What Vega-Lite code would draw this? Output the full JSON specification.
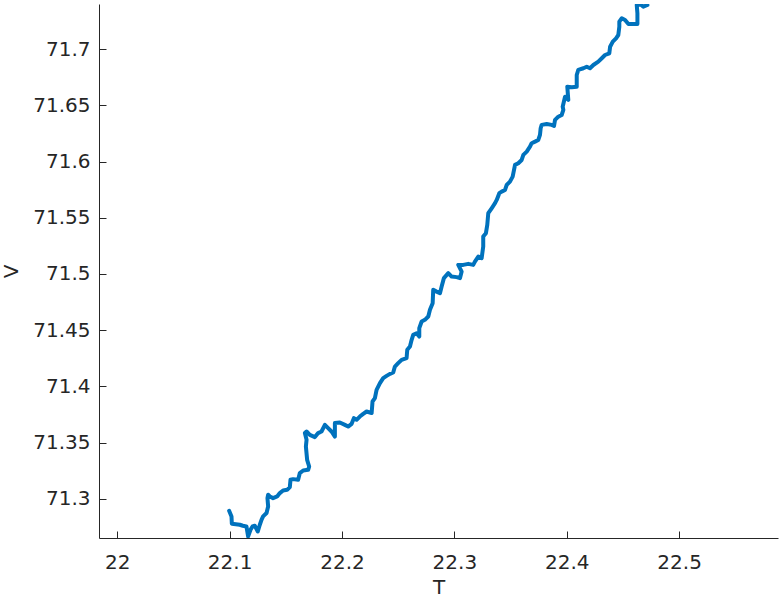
{
  "$schema": "https://vega.github.io/schema/vega-lite/v6.json",
  "autosize": "none",
  "padding": {"left": 99, "top": 4, "right": 2, "bottom": 60},
  "width": 679,
  "height": 534,
  "config": {
    "view": {"stroke": null},
    "axis": {
      "domainColor": "#262626", "tickColor": "#262626", "labelColor": "#262626", "titleColor": "#262626",
      "labelFont": "DejaVu Sans", "titleFont": "DejaVu Sans", "labelFontSize": 20, "titleFontSize": 20,
      "titleFontWeight": "normal", "grid": false, "tickSize": -7, "domainWidth": 1, "tickWidth": 1
    }
  },
  "data": {"values": [
    {"i":1,"T":22.0996,"V":71.2892},{"i":2,"T":22.1017,"V":71.2842},{"i":3,"T":22.1020,"V":71.2777},{"i":4,"T":22.1091,"V":71.2768},
    {"i":5,"T":22.1118,"V":71.2759},{"i":6,"T":22.1150,"V":71.2753},{"i":7,"T":22.1165,"V":71.2664},{"i":8,"T":22.1186,"V":71.2723},
    {"i":9,"T":22.1204,"V":71.2753},{"i":10,"T":22.1224,"V":71.2759},{"i":11,"T":22.1251,"V":71.2708},{"i":12,"T":22.1269,"V":71.2768},
    {"i":13,"T":22.1284,"V":71.2812},{"i":14,"T":22.1298,"V":71.2842},{"i":15,"T":22.1329,"V":71.2872},{"i":16,"T":22.1343,"V":71.2931},
    {"i":17,"T":22.1337,"V":71.3005},{"i":18,"T":22.1343,"V":71.3035},{"i":19,"T":22.1358,"V":71.3020},{"i":20,"T":22.1387,"V":71.3005},
    {"i":21,"T":22.1423,"V":71.3020},{"i":22,"T":22.1447,"V":71.3050},{"i":23,"T":22.1476,"V":71.3073},{"i":24,"T":22.1512,"V":71.3079},
    {"i":25,"T":22.1536,"V":71.3103},{"i":26,"T":22.1542,"V":71.3168},{"i":27,"T":22.1565,"V":71.3174},{"i":28,"T":22.1610,"V":71.3168},
    {"i":29,"T":22.1625,"V":71.3228},{"i":30,"T":22.1655,"V":71.3251},{"i":31,"T":22.1699,"V":71.3257},{"i":32,"T":22.1708,"V":71.3286},
    {"i":33,"T":22.1690,"V":71.3346},{"i":34,"T":22.1679,"V":71.3464},{"i":35,"T":22.1685,"V":71.3524},{"i":36,"T":22.1670,"V":71.3584},
    {"i":37,"T":22.1685,"V":71.3598},{"i":38,"T":22.1714,"V":71.3568},{"i":39,"T":22.1759,"V":71.3548},{"i":40,"T":22.1788,"V":71.3584},
    {"i":41,"T":22.1818,"V":71.3598},{"i":42,"T":22.1848,"V":71.3657},{"i":43,"T":22.1877,"V":71.3628},{"i":44,"T":22.1907,"V":71.3598},
    {"i":45,"T":22.1937,"V":71.3553},{"i":46,"T":22.1937,"V":71.3673},{"i":47,"T":22.1981,"V":71.3678},{"i":48,"T":22.2026,"V":71.3657},
    {"i":49,"T":22.2055,"V":71.3642},{"i":50,"T":22.2086,"V":71.3666},{"i":51,"T":22.2106,"V":71.3717},{"i":52,"T":22.2130,"V":71.3702},
    {"i":53,"T":22.2159,"V":71.3731},{"i":54,"T":22.2189,"V":71.3755},{"i":55,"T":22.2219,"V":71.3776},{"i":56,"T":22.2264,"V":71.3762},
    {"i":57,"T":22.2272,"V":71.3865},{"i":58,"T":22.2293,"V":71.3895},{"i":59,"T":22.2308,"V":71.3969},{"i":60,"T":22.2338,"V":71.4028},
    {"i":61,"T":22.2367,"V":71.4073},{"i":62,"T":22.2397,"V":71.4093},{"i":63,"T":22.2427,"V":71.4111},{"i":64,"T":22.2456,"V":71.4123},
    {"i":65,"T":22.2471,"V":71.4176},{"i":66,"T":22.2500,"V":71.4206},{"i":67,"T":22.2531,"V":71.4236},{"i":68,"T":22.2575,"V":71.4251},
    {"i":69,"T":22.2581,"V":71.4325},{"i":70,"T":22.2605,"V":71.4354},{"i":71,"T":22.2620,"V":71.4414},{"i":72,"T":22.2634,"V":71.4458},
    {"i":73,"T":22.2664,"V":71.4473},{"i":74,"T":22.2688,"V":71.4443},{"i":75,"T":22.2688,"V":71.4518},{"i":76,"T":22.2709,"V":71.4577},
    {"i":77,"T":22.2738,"V":71.4592},{"i":78,"T":22.2768,"V":71.4621},{"i":79,"T":22.2783,"V":71.4681},{"i":80,"T":22.2807,"V":71.4740},
    {"i":81,"T":22.2812,"V":71.4859},{"i":82,"T":22.2842,"V":71.4843},{"i":83,"T":22.2872,"V":71.4829},{"i":84,"T":22.2887,"V":71.4888},
    {"i":85,"T":22.2907,"V":71.4963},{"i":86,"T":22.2946,"V":71.5007},{"i":87,"T":22.2976,"V":71.4977},{"i":88,"T":22.3020,"V":71.4972},
    {"i":89,"T":22.3050,"V":71.4963},{"i":90,"T":22.3065,"V":71.5021},{"i":91,"T":22.3035,"V":71.5081},{"i":92,"T":22.3079,"V":71.5081},
    {"i":93,"T":22.3124,"V":71.5090},{"i":94,"T":22.3168,"V":71.5081},{"i":95,"T":22.3183,"V":71.5110},{"i":96,"T":22.3213,"V":71.5155},
    {"i":97,"T":22.3243,"V":71.5141},{"i":98,"T":22.3257,"V":71.5244},{"i":99,"T":22.3257,"V":71.5333},{"i":100,"T":22.3281,"V":71.5363},
    {"i":101,"T":22.3293,"V":71.5437},{"i":102,"T":22.3302,"V":71.5541},{"i":103,"T":22.3332,"V":71.5585},{"i":104,"T":22.3362,"V":71.5630},
    {"i":105,"T":22.3377,"V":71.5659},{"i":106,"T":22.3400,"V":71.5719},{"i":107,"T":22.3421,"V":71.5733},{"i":108,"T":22.3451,"V":71.5748},
    {"i":109,"T":22.3466,"V":71.5793},{"i":110,"T":22.3495,"V":71.5822},{"i":111,"T":22.3519,"V":71.5867},{"i":112,"T":22.3531,"V":71.5926},
    {"i":113,"T":22.3540,"V":71.5971},{"i":114,"T":22.3569,"V":71.5986},{"i":115,"T":22.3599,"V":71.6015},{"i":116,"T":22.3614,"V":71.6060},
    {"i":117,"T":22.3644,"V":71.6089},{"i":118,"T":22.3673,"V":71.6133},{"i":119,"T":22.3688,"V":71.6164},{"i":120,"T":22.3718,"V":71.6178},
    {"i":121,"T":22.3747,"V":71.6193},{"i":122,"T":22.3762,"V":71.6238},{"i":123,"T":22.3768,"V":71.6297},{"i":124,"T":22.3777,"V":71.6327},
    {"i":125,"T":22.3822,"V":71.6335},{"i":126,"T":22.3866,"V":71.6327},{"i":127,"T":22.3887,"V":71.6318},{"i":128,"T":22.3896,"V":71.6371},
    {"i":129,"T":22.3925,"V":71.6400},{"i":130,"T":22.3955,"V":71.6415},{"i":131,"T":22.3970,"V":71.6460},{"i":132,"T":22.3964,"V":71.6489},
    {"i":133,"T":22.3985,"V":71.6578},{"i":134,"T":22.4014,"V":71.6549},{"i":135,"T":22.4005,"V":71.6667},{"i":136,"T":22.4045,"V":71.6662},
    {"i":137,"T":22.4089,"V":71.6667},{"i":138,"T":22.4089,"V":71.6771},{"i":139,"T":22.4103,"V":71.6816},{"i":140,"T":22.4148,"V":71.6831},
    {"i":141,"T":22.4178,"V":71.6845},{"i":142,"T":22.4207,"V":71.6831},{"i":143,"T":22.4237,"V":71.6860},{"i":144,"T":22.4281,"V":71.6890},
    {"i":145,"T":22.4312,"V":71.6920},{"i":146,"T":22.4341,"V":71.6949},{"i":147,"T":22.4379,"V":71.6964},{"i":148,"T":22.4386,"V":71.7023},
    {"i":149,"T":22.4410,"V":71.7068},{"i":150,"T":22.4439,"V":71.7098},{"i":151,"T":22.4459,"V":71.7127},{"i":152,"T":22.4468,"V":71.7201},
    {"i":153,"T":22.4468,"V":71.7246},{"i":154,"T":22.4490,"V":71.7276},{"i":155,"T":22.4519,"V":71.7261},{"i":156,"T":22.4549,"V":71.7225},
    {"i":157,"T":22.4593,"V":71.7225},{"i":158,"T":22.4629,"V":71.7225},{"i":159,"T":22.4629,"V":71.7320},{"i":160,"T":22.4623,"V":71.7394},
    {"i":161,"T":22.4653,"V":71.7403},{"i":162,"T":22.4682,"V":71.7379},{"i":163,"T":22.4718,"V":71.7394}
  ]},
  "mark": {"type": "line", "color": "#0072BD", "strokeWidth": 4, "clip": true, "strokeJoin": "round", "strokeCap": "round"},
  "encoding": {
    "x": {"field": "T", "type": "quantitative",
      "scale": {"domain": [21.9838, 22.588], "nice": false, "zero": false},
      "axis": {"values": [22, 22.1, 22.2, 22.3, 22.4, 22.5], "format": "~g", "labelPadding": 21,
        "title": "T", "titleX": 339.5, "titleY": 49, "titleBaseline": "middle", "titleAlign": "center"}},
    "y": {"field": "V", "type": "quantitative",
      "scale": {"domain": [71.265, 71.7403], "nice": false, "zero": false},
      "axis": {"values": [71.3, 71.35, 71.4, 71.45, 71.5, 71.55, 71.6, 71.65, 71.7], "format": "~g", "labelPadding": 16,
        "title": "V", "titleX": -88, "titleY": 267, "titleAngle": -90, "titleBaseline": "middle", "titleAlign": "center"}},
    "order": {"field": "i", "type": "quantitative"}
  }
}
